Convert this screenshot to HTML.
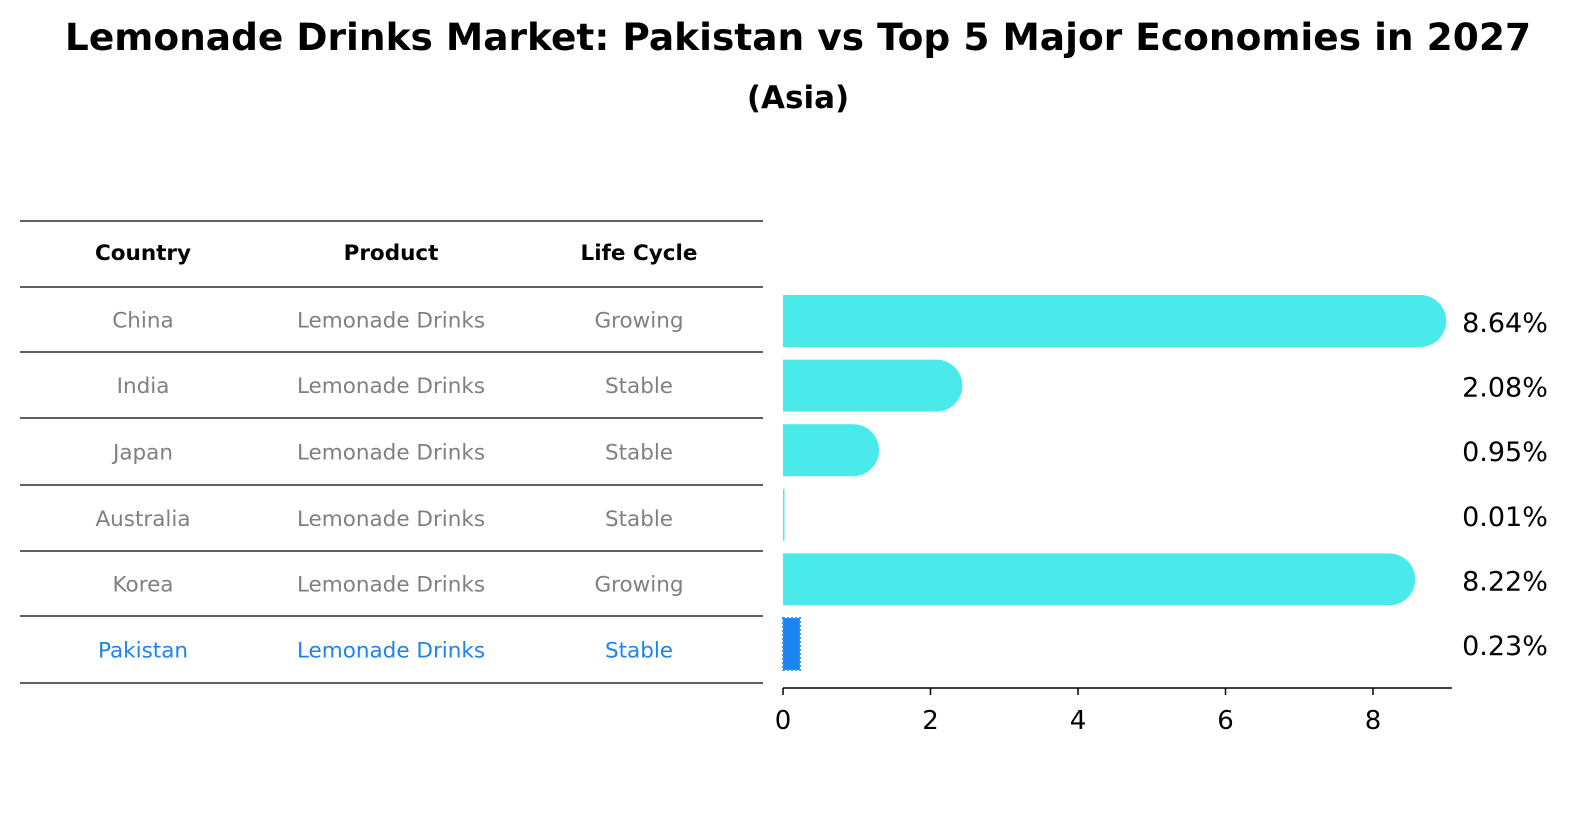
<!DOCTYPE html>
<html><head><meta charset="utf-8"><style>
body{margin:0;background:#fff;font-family:"DejaVu Sans","Liberation Sans",sans-serif;}
#wrap{position:relative;width:1586px;height:823px;overflow:hidden}
</style></head><body>
<div id="wrap">
<svg id="svg" width="1586" height="823">
<text x="798" y="50" text-anchor="middle" font-size="37.5" font-weight="bold">Lemonade Drinks Market: Pakistan vs Top 5 Major Economies in 2027</text>
<text x="798" y="108" text-anchor="middle" font-size="31" font-weight="bold">(Asia)</text>
<g id="table"></g>
<g id="bars"></g>
</svg>
</div>
<script>
const countries=["China","India","Japan","Australia","Korea","Pakistan"];
const products=["Lemonade Drinks","Lemonade Drinks","Lemonade Drinks","Lemonade Drinks","Lemonade Drinks","Lemonade Drinks"];
const lifeCycles=["Growing","Stable","Stable","Stable","Growing","Stable"];
const values=[8.64,2.08,0.95,0.01,8.22,0.23];
const ticks=[0,2,4,6,8];
const NS="http://www.w3.org/2000/svg";
function mk(tag,attrs,parent,text){const e=document.createElementNS(NS,tag);for(const k in attrs)e.setAttribute(k,attrs[k]);if(text!==undefined)e.textContent=text;parent.appendChild(e);return e;}
const tbl=document.getElementById('table');
const lines=[221,287,352,418,485,551,616,683];
lines.forEach(y=>{const l=mk('line',{x1:20,x2:763,y1:y,y2:y,stroke:'#000','stroke-width':1.2},tbl);

});
const colX=[143,391,639];
["Country","Product","Life Cycle"].forEach((h,i)=>{const t=mk('text',{x:colX[i],y:260,'text-anchor':'middle','font-size':21.5,'font-weight':'bold'},tbl,h);

});
countries.forEach((c,r)=>{const cy=(lines[r+1]+lines[r+2])/2+8;const col=c==="Pakistan"?'#1a85f0':'#808080';
[c,products[r],lifeCycles[r]].forEach((v,i)=>{const t=mk('text',{x:colX[i],y:cy,'text-anchor':'middle','font-size':21.5,fill:col},tbl,v);

});});
const g=document.getElementById('bars');
const x0=783,scale=(1373-783)/8;
const xs=v=>x0+v*scale;
const yc=i=>321+i*64.6;
const bh=52;
values.forEach((v,i)=>{
 const w=xs(v)-x0;
 if(countries[i]==="Pakistan"){
  const b=mk('rect',{x:x0,y:yc(i)-bh/2,width:w,height:bh,fill:'#1a85f0',stroke:'#3a9af5','stroke-width':2,'stroke-dasharray':'2 2'},g);
  
  
 } else if(w>1){
  const r=bh/2;
  const b=mk('path',{d:`M${x0},${yc(i)-r} H${x0+w} A${r},${r} 0 0 1 ${x0+w},${yc(i)+r} H${x0} Z`,fill:'#4aeaea'},g);
  
  
 } else {
  const b=mk('rect',{x:x0,y:yc(i)-bh/2,width:1.5,height:bh,fill:'#4aeaea'},g);
  
  
 }
 const t=mk('text',{x:1505,y:yc(i)+11,'text-anchor':'middle','font-size':27},g,v.toFixed(2)+'%');
 
 
});
const ax=mk('line',{x1:x0,x2:1452,y1:688,y2:688,stroke:'#000','stroke-width':1.5},g);


ticks.forEach(t=>{
 const tk=mk('line',{x1:xs(t),x2:xs(t),y1:688,y2:695,stroke:'#000','stroke-width':1.5},g);
 
 
 const tl=mk('text',{x:xs(t),y:729,'text-anchor':'middle','font-size':26},g,String(t));
 
 
});
</script>
</body></html>
